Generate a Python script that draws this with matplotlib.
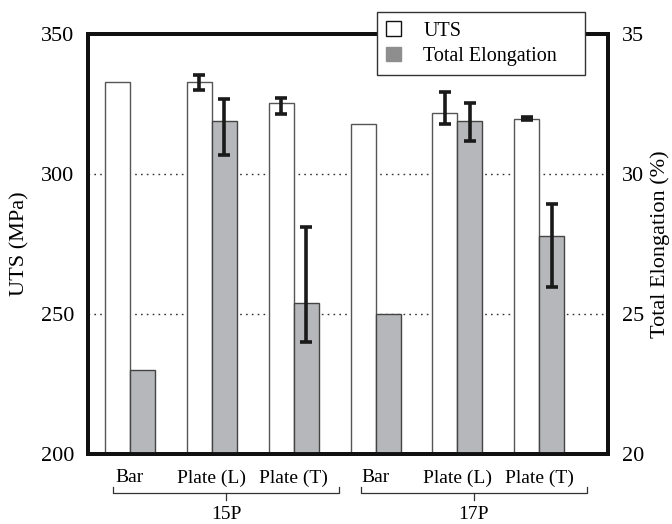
import matplotlib.pyplot as plt
import numpy as np
from matplotlib.patches import Patch

plt.rcParams['font.family'] = ['Liberation Serif', 'DejaVu Serif']

samples = ["Bar", "Plate (L)", "Plate (T)", "Bar", "Plate (L)", "Plate (T)"]
groups = ["15P", "17P"]
uts = [333, 333, 325.3, 318, 321.7, 319.8]
uts_err_lo = [0, 2.9, 3.9, 0, 3.9, 0.4]
uts_err_hi = [0, 2.5, 2.0, 0, 7.4, 0.4]
elong = [23.0, 31.9, 25.4, 25.0, 31.9, 27.8]
elong_err_lo = [0, 1.21, 1.39, 0, 0.71, 1.82]
elong_err_hi = [0, 0.79, 2.71, 0, 0.64, 1.11]

fig = plt.figure(figsize=(6.72, 5.24), dpi=100)
ax = fig.add_axes([0.131, 0.1336, 0.774, 0.8016])
ax2 = ax.twinx()

x = np.arange(len(samples))
w = 0.305


def draw_errors(a, xs, ys, lo, hi):
    lo = np.array(lo)
    hi = np.array(hi)
    m = (lo > 0) | (hi > 0)
    a.errorbar(np.array(xs)[m], np.array(ys)[m], yerr=[lo[m], hi[m]], fmt="none",
               ecolor="#1a1a1a", elinewidth=2.6, capsize=4.5, capthick=2.6, zorder=3)


ax.bar(x - w / 2, uts, w, color="white", edgecolor="#555555", linewidth=1.0, zorder=2)
draw_errors(ax, x - w / 2, uts, uts_err_lo, uts_err_hi)
ax2.bar(x + w / 2, elong, w, color="#b6b7ba", edgecolor="#444444", linewidth=1.0, zorder=2)
draw_errors(ax2, x + w / 2, elong, elong_err_lo, elong_err_hi)

ax.set_xlim(-0.51, 5.84)
ax.set_ylim(200, 350)
ax2.set_ylim(20, 35)
ax.set_yticks([200, 250, 300, 350])
ax2.set_yticks([20, 25, 30, 35])
for yv in [250, 300]:
    ax.axhline(yv, color="#333333", linestyle=(0, (1.2, 3)), linewidth=1.0, zorder=1)

ax.set_xticks(x)
ax.set_xticklabels(samples)
ax.tick_params(axis="x", length=0, pad=11, labelsize=14)
ax.tick_params(axis="y", length=0, pad=10, labelsize=16)
ax2.tick_params(axis="y", length=0, pad=10, labelsize=16)
ax.set_ylabel("UTS (MPa)", fontsize=16, labelpad=8)
ax2.set_ylabel("Total Elongation (%)", fontsize=16, labelpad=4)

for a in (ax, ax2):
    for s in a.spines.values():
        s.set_linewidth(2.8)
        s.set_color("#111111")

# group braces under the tick labels
trans = ax.get_xaxis_transform()
spans = [(-0.2, 2.55), (2.82, 5.58)]
for (x0, x1), g in zip(spans, groups):
    xm = (x0 + x1) / 2
    ax.plot([x0, x0, x1, x1], [-0.078, -0.093, -0.093, -0.078], color="#333333",
            linewidth=0.9, transform=trans, clip_on=False)
    ax.plot([xm, xm], [-0.093, -0.11], color="#333333", linewidth=0.9,
            transform=trans, clip_on=False)
    ax.text(xm, -0.143, g, transform=trans, ha="center", va="center", fontsize=14)

handles = [Patch(facecolor="white", edgecolor="#111111", linewidth=1.0),
           Patch(facecolor="#8e8e8e", edgecolor="#8e8e8e")]
fig.legend(handles, ["UTS", "Total Elongation"], loc="upper left", mode="expand",
           bbox_to_anchor=(0.561, 0.855, 0.3095, 0.122), borderaxespad=0, fontsize=14.5,
           frameon=True, fancybox=False, edgecolor="#333333", framealpha=1,
           handlelength=0.75, handleheight=0.75, borderpad=0.45, labelspacing=0.3,
           handletextpad=1.1)

fig.savefig("out.png", dpi=100)
